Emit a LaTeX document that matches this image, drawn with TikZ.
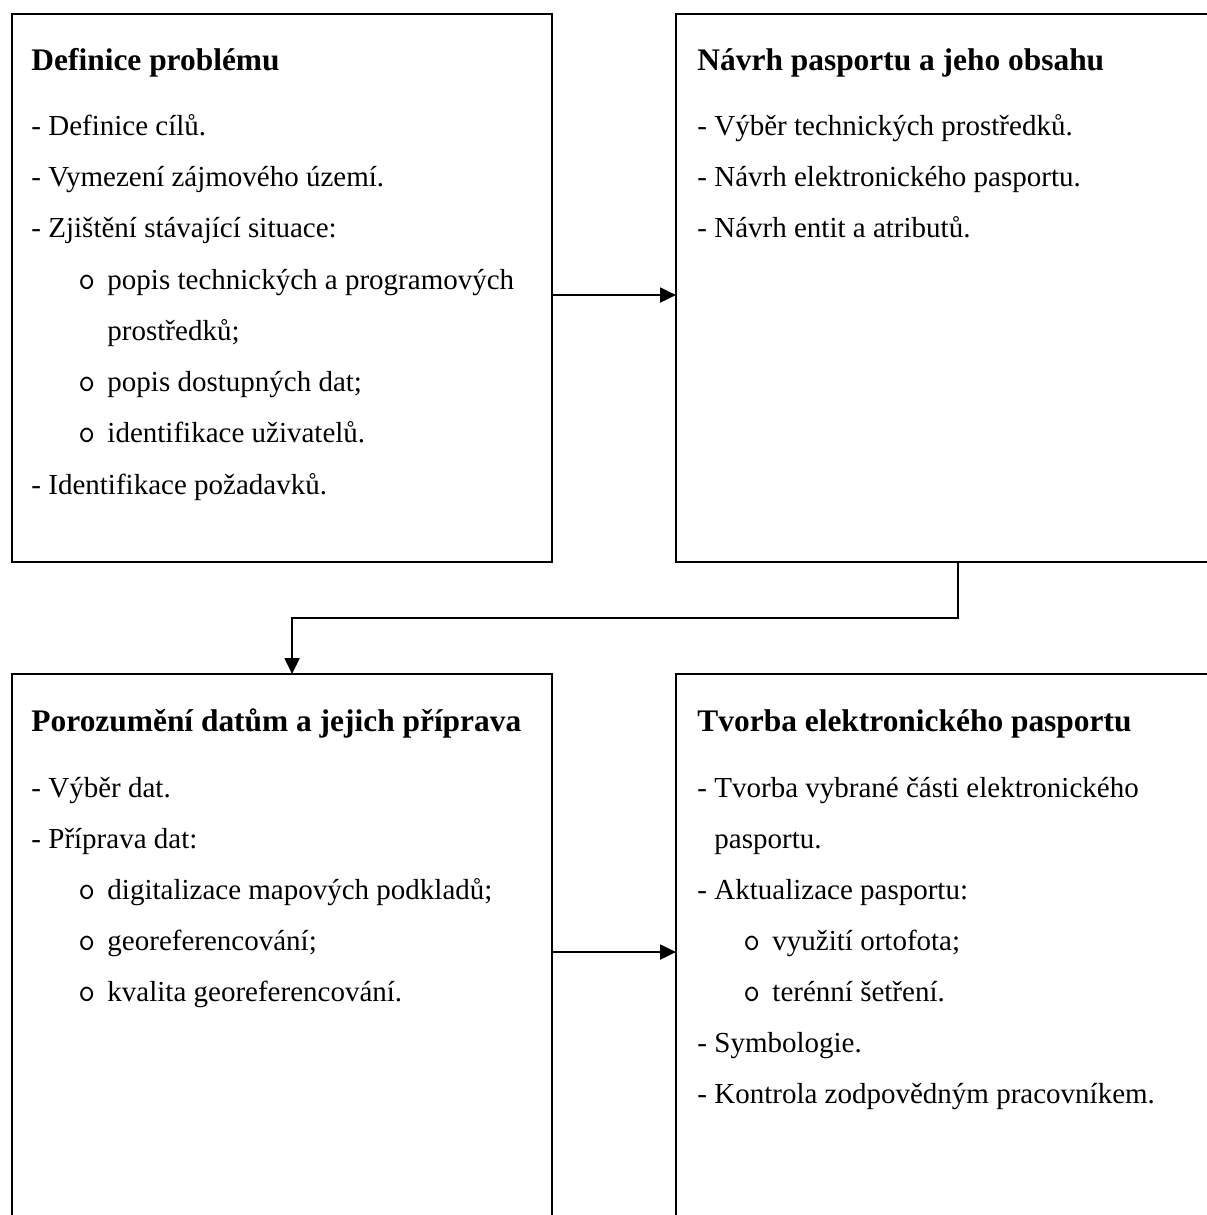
\documentclass[tikz,border=0pt]{standalone}
\usepackage{fontspec}
\setmainfont{Liberation Serif}
\usepackage{tikz}
\usetikzlibrary{arrows.meta,positioning,calc}
\newcommand{\subpt}[1]{\makebox[12pt][l]{\fontsize{13.5}{15}\ttfamily o}#1}

\begin{document}
\begin{tikzpicture}[
      x=0.4138pt, y=-0.4138pt,
      font=\fontsize{12}{14}\selectfont,
      stage/.style={draw, line width=0.8pt, inner sep=0pt, outer sep=0pt, minimum height=226.8pt, anchor=north west},
      title/.style={font=\fontsize{13}{15}\selectfont\bfseries, anchor=base west, inner sep=0pt},
      item/.style={anchor=base west, inner sep=0pt},
      flow/.style={line width=0.8pt, -{Triangle[length=6.6pt, width=6.2pt]}}
  ]
    \clip (0,0) rectangle (1207,1215);
    \fill[white] (0,0) rectangle (1207,1215);

    \node[stage, minimum width=223.5pt] (def) at (12,14) {};
    \node[stage, minimum width=225.1pt] (nav) at (676,14) {};
    \node[stage, minimum width=223.5pt] (por) at (12,674) {};
    \node[stage, minimum width=225.1pt] (tvo) at (676,674) {};

    \node[title] (def-t) at (31,71) {Definice problému};
    \node[title] (nav-t) at (697,71) {Návrh pasportu a jeho obsahu};
    \node[title] (por-t) at (31,731) {Porozumění datům a jejich příprava};
    \node[title] (tvo-t) at (697,731) {Tvorba elektronického pasportu};

    \foreach \px/\py/\txt [count=\i] in {31/136/{- Definice cílů.}, 31/187/{- Vymezení zájmového území.},
        31/238/{- Zjištění stávající situace:}, 78/289/{\subpt{popis technických a programových}},
        107/340/{prostředků;}, 78/391/{\subpt{popis dostupných dat;}},
        78/442/{\subpt{identifikace uživatelů.}}, 31/494/{- Identifikace požadavků.}} {
        \node[item] (def-\i) at (\px,\py) {\txt};
    }
    \foreach \px/\py/\txt [count=\i] in {697/136/{- Výběr technických prostředků.},
        697/187/{- Návrh elektronického pasportu.}, 697/238/{- Návrh entit a atributů.}} {
        \node[item] (nav-\i) at (\px,\py) {\txt};
    }
    \foreach \px/\py/\txt [count=\i] in {31/797/{- Výběr dat.}, 31/848/{- Příprava dat:},
        78/899/{\subpt{digitalizace mapových podkladů;}}, 78/950/{\subpt{georeferencování;}},
        78/1001/{\subpt{kvalita georeferencování.}}} {
        \node[item] (por-\i) at (\px,\py) {\txt};
    }
    \foreach \px/\py/\txt [count=\i] in {697/797/{- Tvorba vybrané části elektronického},
        714/848/{pasportu.}, 697/899/{- Aktualizace pasportu:}, 743/950/{\subpt{využití ortofota;}},
        743/1001/{\subpt{terénní šetření.}}, 697/1052/{- Symbologie.},
        697/1103/{- Kontrola zodpovědným pracovníkem.}} {
        \node[item] (tvo-\i) at (\px,\py) {\txt};
    }

    \draw[flow] ($(def.east)+(0,7)$) -- ($(nav.west)+(0,7)$);
    \draw[flow] ($(nav.south)+(10,0)$) -- ++(0,56) -| ($(por.north)+(10,0)$);
    \draw[flow] ($(por.east)+(0,4)$) -- ($(tvo.west)+(0,4)$);
  \end{tikzpicture}
\end{document}
